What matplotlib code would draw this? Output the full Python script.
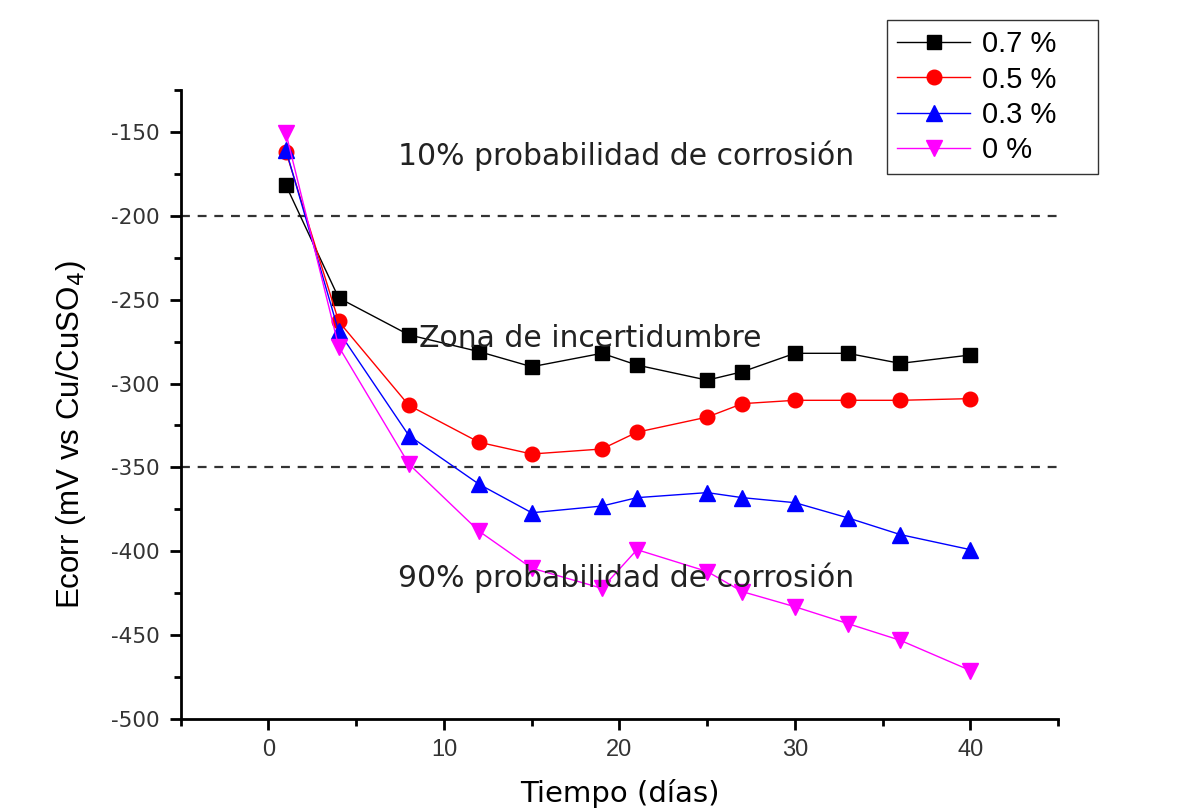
import matplotlib
matplotlib.use("Agg")
import matplotlib.pyplot as plt
from matplotlib.ticker import MultipleLocator

plt.rcParams['font.family'] = ['Liberation Sans', 'DejaVu Sans']
plt.rcParams['axes.unicode_minus'] = False

# datos
dias = [1, 4, 8, 12, 15, 19, 21, 25, 27, 30, 33, 36, 40]
e07 = [-182, -249, -271, -281, -290, -282, -289, -298, -293, -282, -282, -288, -283]
e05 = [-162, -263, -313, -335, -342, -339, -329, -320, -312, -310, -310, -310, -309]
e03 = [-161, -269, -331, -360, -377, -373, -368, -365, -368, -371, -380, -390, -399]
e00 = [-151, -278, -348, -388, -410, -422, -399, -412, -424, -433, -443, -453, -471]
etiquetas = ['0.7 %', '0.5 %', '0.3 %', '0 %']
limites = [-200, -350]

fig = plt.figure(figsize=(11.89, 8.09), dpi=100)
ax = fig.add_axes([0.152, 0.111, 0.738, 0.778])

ax.plot(dias, e07, '-s', color='black', lw=1, ms=10.5, label=etiquetas[0])
ax.plot(dias, e05, '-o', color='red', lw=1, ms=10.5, label=etiquetas[1])
ax.plot(dias, e03, '-^', color='blue', lw=1, ms=11, label=etiquetas[2])
ax.plot(dias, e00, '-v', color='magenta', lw=1, ms=11, label=etiquetas[3])

for l in limites:
    ax.axhline(l, color='#333333', ls=(0, (4, 3.5)), lw=1.6, zorder=0)

txt = dict(fontsize=21.5, family='DejaVu Sans', ha='left', va='center', color='#222222')
ax.text(7.4, -164, '10% probabilidad de corrosión', **txt)
ax.text(8.6, -273, 'Zona de incertidumbre', **txt)
ax.text(7.4, -416, '90% probabilidad de corrosión', **txt)

ax.set_xlim(-5, 45)
ax.set_ylim(-500, -125)
ax.xaxis.set_major_locator(MultipleLocator(10))
ax.xaxis.set_minor_locator(MultipleLocator(5))
ax.yaxis.set_minor_locator(MultipleLocator(25))
ax.set_yticks(range(-500, -149, 50))

ax.spines['top'].set_visible(False)
ax.spines['right'].set_visible(False)
ax.spines['left'].set_linewidth(2)
ax.spines['bottom'].set_linewidth(2)
ax.tick_params(which='major', length=8, width=2, colors='black')
ax.tick_params(which='minor', length=5, width=2)
ax.tick_params(axis='x', labelsize=17, pad=6, labelcolor='#333333')
ax.tick_params(axis='y', labelsize=15.5, pad=7, labelcolor='#333333')
for t in ax.get_yticklabels():
    t.set_family('DejaVu Sans')

ax.set_xlabel('Tiempo (días)', fontsize=21, labelpad=13, family='DejaVu Sans')
ax.set_ylabel('Ecorr (mV vs Cu/CuSO$_4$)', fontsize=22.5)
ax.yaxis.set_label_coords(-0.106, 0.452)

fig.legend(loc='upper left',
           bbox_to_anchor=(887 / 1189, 1 - 172 / 809, 211 / 1189, 152 / 809),
           mode='expand', fontsize=21,
           frameon=True, fancybox=False, edgecolor='#333333', framealpha=1,
           handlelength=2.5, labelspacing=0.25, borderpad=0.35, handletextpad=0.4,
           borderaxespad=0)

fig.savefig('out.png', dpi=100)
